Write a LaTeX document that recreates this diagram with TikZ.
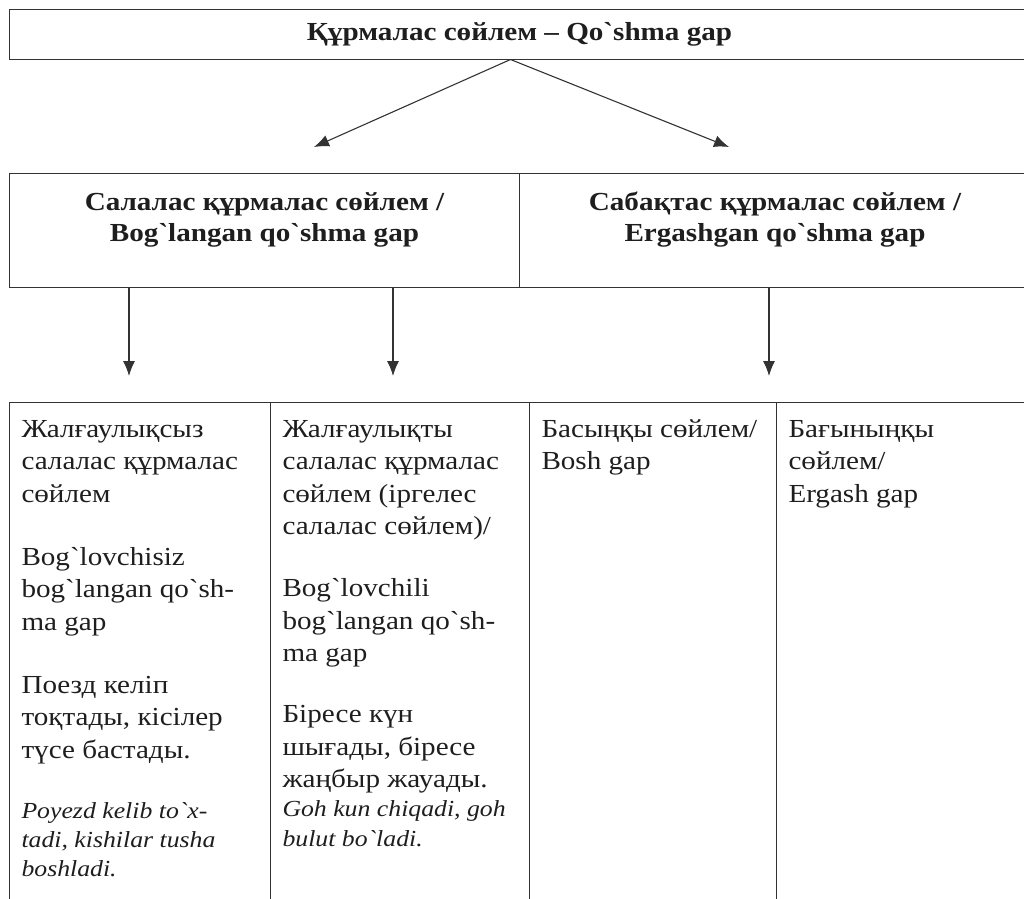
\documentclass[tikz,border=0pt]{standalone}
\usepackage{fontspec}
\setmainfont{Liberation Serif}[Ligatures=TeXOff, FakeStretch=1.12]
\usetikzlibrary{arrows.meta}

\definecolor{linegray}{HTML}{333333}
\definecolor{inkgray}{HTML}{1E1E1E}

% top aligned box content: height, width, text
\newcommand{\topfill}[3]{\parbox[t][#1][t]{#2}{#3}}
% example sentence in italics
\newcommand{\exline}[1]{{\fontsize{23}{32.5}\selectfont\itshape #1}}

\tikzset{
  frame/.style={draw=linegray, line width=1pt, rectangle, inner sep=0pt, text=inkgray},
  headbox/.style={frame, anchor=north west, inner xsep=10pt, inner ysep=15pt,
    font=\bfseries\fontsize{26}{31}\selectfont},
  cellbox/.style={frame, anchor=north west, inner xsep=12pt, inner ysep=12pt,
    font=\fontsize{26}{32.5}\selectfont},
  arr/.style={draw=linegray, line width=1.1pt, -{Latex[length=15pt,width=12pt]}}
}

\begin{document}
\begin{tikzpicture}[x=1pt, y=-1pt]
            \useasboundingbox (0, 0) rectangle (1024, 898);
            \clip (0, 0) rectangle (1024, 898);
            % top
            \draw (519.5, 34) node[frame, minimum width=1021, minimum height=50,
              font=\bfseries\fontsize{26}{31}\selectfont](top){Құрмалас сөйлем – Qo`shma gap};
            % second row
            \draw (9, 173) node[headbox](sal){\topfill{84pt}{490pt}{\centering\strut
              Салалас құрмалас сөйлем /\\ Bog`langan qo`shma gap}};
            \draw (519, 173) node[headbox](sab){\topfill{84pt}{491pt}{\centering\strut
              Сабақтас құрмалас сөйлем /\\ Ergashgan qo`shma gap}};
            \coordinate (fork) at ([xshift=-9pt]top.south);
            \coordinate (salend) at (314, 147);
            \coordinate (sabend) at (729, 147);
            \draw[arr] (fork) -- (salend);
            \draw[arr] (fork) -- (sabend);
            % table
            \draw (9, 402) node[cellbox](c1){\topfill{510pt}{237pt}{\raggedright\strut
              Жалғаулықсыз\\ салалас құрмалас\\ сөйлем\\[30.5pt]
              Bog`lovchisiz\\ bog`langan qo`sh-\\ ma gap\\[30.5pt]
              Поезд келіп\\ тоқтады, кісілер\\ түсе бастады.\\[27.5pt]
              \exline{Poyezd kelib to`x-}\\[-3pt] \exline{tadi, kishilar tusha}\\[-4pt]
              \exline{boshladi.}}};
            \draw (270, 402) node[cellbox](c2){\topfill{510pt}{235pt}{\raggedright\strut
              Жалғаулықты\\ салалас құрмалас\\ сөйлем (іргелес\\ салалас сөйлем)/\\[29.5pt]
              Bog`lovchili\\ bog`langan qo`sh-\\ ma gap\\[28.5pt]
              Біресе күн\\ шығады, біресе\\ жаңбыр жауады.\\[-3.5pt]
              \exline{Goh kun chiqadi, goh}\\[-2.5pt] \exline{bulut bo`ladi.}}};
            \draw (529, 402) node[cellbox](c3){\topfill{510pt}{223pt}{\raggedright\strut
              Басыңқы сөйлем/\\ Bosh gap}};
            \draw (776, 402) node[cellbox](c4){\topfill{510pt}{240pt}{\raggedright\strut
              Бағыныңқы\\ сөйлем/\\ Ergash gap}};
            \coordinate (d1) at (129, 376);
            \coordinate (d2) at (393, 376);
            \coordinate (d3) at (769, 376);
            \draw[arr] (d1 |- sal.south) -- (d1);
            \draw[arr] (d2 |- sal.south) -- (d2);
            \draw[arr] (d3 |- sab.south) -- (d3);
        \end{tikzpicture}
\end{document}
